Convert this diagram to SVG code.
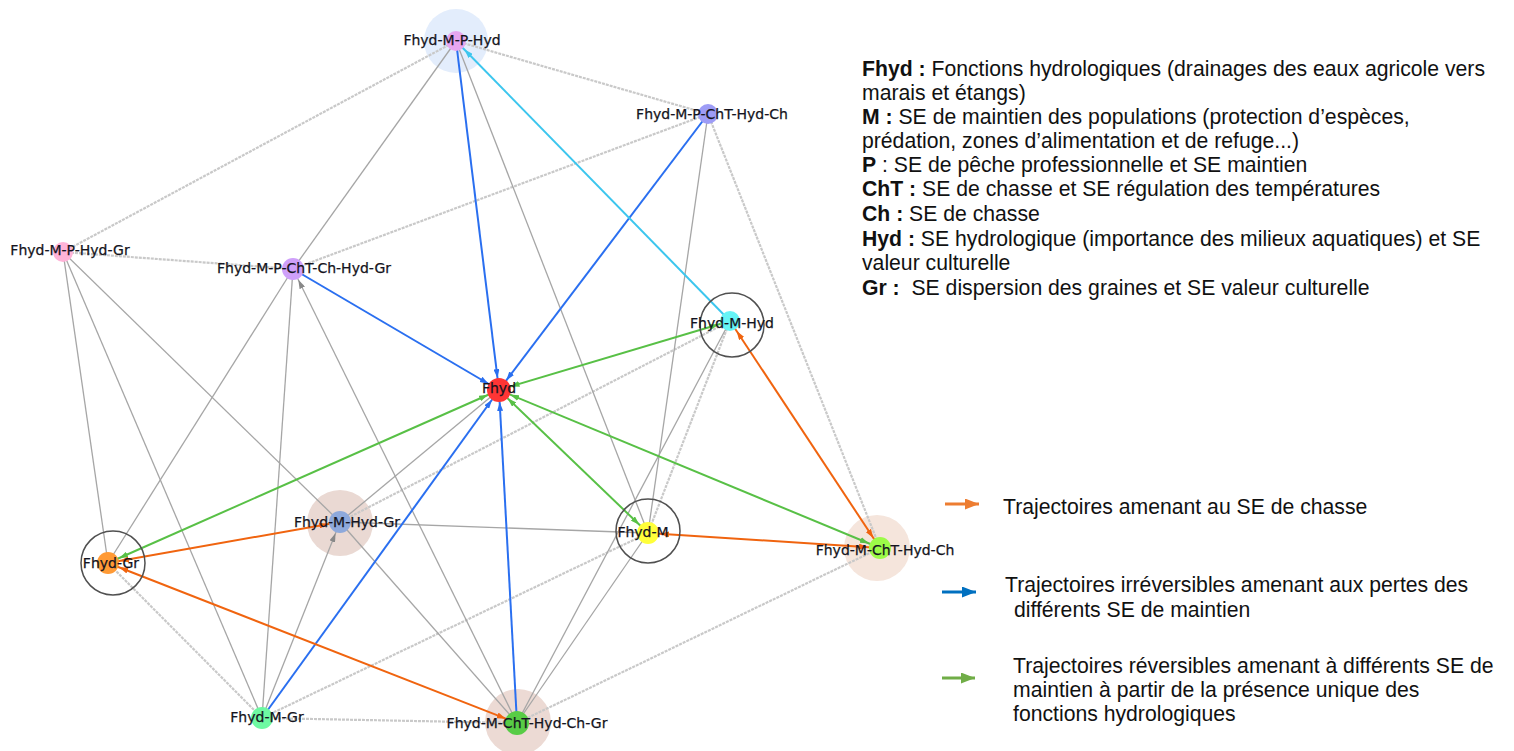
<svg xmlns="http://www.w3.org/2000/svg" width="1514" height="751" viewBox="0 0 1514 751">
<style>
.bg{fill:#ffffff}
.dk{stroke:#a6a6a6;stroke-width:1.3;fill:none}
.lt{stroke:#c9c9c9;stroke-width:2.2;fill:none;stroke-dasharray:3 1}
.bl{stroke:#2a6ff0;stroke-width:2;fill:none;marker-end:url(#ab)}
.cy{stroke:#3cc6ee;stroke-width:2;fill:none;marker-end:url(#ac)}
.gr{stroke:#58c046;stroke-width:2;fill:none;marker-end:url(#ag);marker-start:url(#ag)}
.or{stroke:#f0640f;stroke-width:2;fill:none;marker-end:url(#ao);marker-start:url(#ao)}
.nd{stroke:none}
.ring{fill:none;stroke:#505050;stroke-width:1.5}
.lbl{font-family:"DejaVu Sans",Verdana,sans-serif;font-size:14px;fill:#141420;text-anchor:middle;stroke:#141420;stroke-width:0.25}
.lg{font-family:"Liberation Sans",Arial,sans-serif;font-size:21.2px;fill:#111}
.b{font-weight:bold}
</style>
<defs>
<marker id="ab" markerUnits="userSpaceOnUse" viewBox="0 0 21 6" markerWidth="21" markerHeight="6" refX="21" refY="3" orient="auto-start-reverse"><path d="M0,0 L9,3 L0,6 z" fill="#2a6ff0"/></marker>
<marker id="ac" markerUnits="userSpaceOnUse" viewBox="0 0 21 6" markerWidth="21" markerHeight="6" refX="21" refY="3" orient="auto-start-reverse"><path d="M0,0 L9,3 L0,6 z" fill="#3cc6ee"/></marker>
<marker id="ag" markerUnits="userSpaceOnUse" viewBox="0 0 21 6" markerWidth="21" markerHeight="6" refX="21" refY="3" orient="auto-start-reverse"><path d="M0,0 L9,3 L0,6 z" fill="#58c046"/></marker>
<marker id="ao" markerUnits="userSpaceOnUse" viewBox="0 0 21 6" markerWidth="21" markerHeight="6" refX="21" refY="3" orient="auto-start-reverse"><path d="M0,0 L9,3 L0,6 z" fill="#f0640f"/></marker>
<marker id="ay" markerUnits="userSpaceOnUse" viewBox="0 0 21 6" markerWidth="21" markerHeight="6" refX="21" refY="3" orient="auto"><path d="M0,0 L9,3 L0,6 z" fill="#888"/></marker>
<marker id="lo" markerUnits="userSpaceOnUse" viewBox="0 0 14 11" markerWidth="14" markerHeight="11" refX="14" refY="5.5" orient="auto"><path d="M0,0 L14,5.5 L0,11 z" fill="#ed7d31"/></marker>
<marker id="lb" markerUnits="userSpaceOnUse" viewBox="0 0 14 11" markerWidth="14" markerHeight="11" refX="14" refY="5.5" orient="auto"><path d="M0,0 L14,5.5 L0,11 z" fill="#0070c0"/></marker>
<marker id="lgm" markerUnits="userSpaceOnUse" viewBox="0 0 14 11" markerWidth="14" markerHeight="11" refX="14" refY="5.5" orient="auto"><path d="M0,0 L14,5.5 L0,11 z" fill="#70ad47"/></marker>
</defs>
<rect class="bg" x="0" y="0" width="1514" height="751"/>

<g id="halos">
<circle cx="456" cy="41" r="32" fill="#e3edfc"/>
<circle cx="340" cy="523" r="33" fill="#ead9d3"/>
<circle cx="877" cy="548" r="33" fill="#f5e5dc"/>
<circle cx="518" cy="722" r="33" fill="#ecdad4"/>
</g>

<g id="connectors">
<line class="lt" x1="456" y1="41" x2="63" y2="252"/>
<line class="lt" x1="456" y1="41" x2="708" y2="114"/>
<line class="lt" x1="63" y1="252" x2="293" y2="269"/>
<line class="lt" x1="293" y1="269" x2="708" y2="114"/>
<line class="lt" x1="708" y1="114" x2="880" y2="548"/>
<line class="lt" x1="730" y1="321" x2="340" y2="522"/>
<line class="lt" x1="730" y1="321" x2="648" y2="533"/>
<line class="lt" x1="648" y1="533" x2="262" y2="718"/>
<line class="lt" x1="880" y1="548" x2="517" y2="723"/>
<line class="lt" x1="262" y1="718" x2="517" y2="723"/>
<line class="lt" x1="108" y1="563" x2="262" y2="718"/>
<line class="dk" x1="108" y1="563" x2="293" y2="269"/>
<line class="dk" x1="456" y1="41" x2="293" y2="269"/>
<line class="dk" x1="456" y1="41" x2="648" y2="533"/>
<line class="dk" x1="708" y1="114" x2="648" y2="533"/>
<line class="dk" x1="63" y1="252" x2="108" y2="563"/>
<line class="dk" x1="63" y1="252" x2="262" y2="718"/>
<line class="dk" x1="63" y1="252" x2="340" y2="522"/>
<line class="dk" x1="293" y1="269" x2="262" y2="718"/>
<line class="dk" x1="517" y1="723" x2="293" y2="269" style="marker-end:url(#ay)"/>
<line class="dk" x1="730" y1="321" x2="517" y2="723"/>
<line class="dk" x1="648" y1="533" x2="517" y2="723"/>
<line class="dk" x1="340" y1="522" x2="648" y2="533"/>
<line class="dk" x1="340" y1="522" x2="499" y2="390"/>
<line class="dk" x1="340" y1="522" x2="517" y2="723"/>
<line class="dk" x1="262" y1="718" x2="340" y2="522" style="marker-end:url(#ay)"/>
<line class="bl" x1="456" y1="41" x2="499" y2="390"/>
<line class="bl" x1="708" y1="114" x2="499" y2="390"/>
<line class="bl" x1="293" y1="269" x2="499" y2="390"/>
<line class="bl" x1="262" y1="718" x2="499" y2="390"/>
<line class="bl" x1="517" y1="723" x2="499" y2="390"/>
<line class="cy" x1="730" y1="321" x2="456" y2="41"/>
<line class="gr" x1="499" y1="390" x2="730" y2="321"/>
<line class="gr" x1="499" y1="390" x2="108" y2="563"/>
<line class="gr" x1="499" y1="390" x2="648" y2="533"/>
<line class="gr" x1="499" y1="390" x2="880" y2="548"/>
<line class="or" x1="730" y1="321" x2="880" y2="548"/>
<line class="or" x1="648" y1="533" x2="880" y2="548"/>
<line class="or" x1="108" y1="563" x2="340" y2="522"/>
<line class="or" x1="108" y1="563" x2="517" y2="723"/>
</g>

<g id="n1"><circle class="nd" cx="456" cy="41" r="10" fill="#e6a6f0"/><text class="lbl" x="452" y="45">Fhyd-M-P-Hyd</text></g>
<g id="n2"><circle class="nd" cx="708" cy="114" r="10" fill="#9d9cf6"/><text class="lbl" x="712" y="119">Fhyd-M-P-ChT-Hyd-Ch</text></g>
<g id="n3"><circle class="nd" cx="63" cy="252" r="10" fill="#ffb4d8"/><text class="lbl" x="70" y="255">Fhyd-M-P-Hyd-Gr</text></g>
<g id="n4"><circle class="nd" cx="293" cy="269" r="11" fill="#cfa0fa"/><text class="lbl" x="304" y="273">Fhyd-M-P-ChT-Ch-Hyd-Gr</text></g>
<g id="n5"><circle class="nd" cx="730" cy="321" r="10" fill="#66f4f6"/><circle class="ring" cx="732" cy="325" r="32"/><text class="lbl" x="732" y="328">Fhyd-M-Hyd</text></g>
<g id="n6"><circle class="nd" cx="499" cy="390" r="12" fill="#ff3535"/><text class="lbl" x="499" y="393">Fhyd</text></g>
<g id="n7"><circle class="nd" cx="340" cy="522" r="11" fill="#8ea9db"/><text class="lbl" x="347" y="527">Fhyd-M-Hyd-Gr</text></g>
<g id="n8"><circle class="nd" cx="108" cy="563" r="11" fill="#ff9a35"/><circle class="ring" cx="113" cy="563" r="32"/><text class="lbl" x="111" y="568">Fhyd-Gr</text></g>
<g id="n9"><circle class="nd" cx="648" cy="533" r="11" fill="#ffff3a"/><circle class="ring" cx="648" cy="531" r="32"/><text class="lbl" x="643" y="537">Fhyd-M</text></g>
<g id="n10"><circle class="nd" cx="880" cy="548" r="11" fill="#9cfb48"/><text class="lbl" x="885" y="555">Fhyd-M-ChT-Hyd-Ch</text></g>
<g id="n11"><circle class="nd" cx="262" cy="718" r="11" fill="#6ef9a2"/><text class="lbl" x="267" y="722">Fhyd-M-Gr</text></g>
<g id="n12"><circle class="nd" cx="517" cy="723" r="12" fill="#58cc46"/><text class="lbl" x="527" y="728">Fhyd-M-ChT-Hyd-Ch-Gr</text></g>

<g id="legend-abbrev">
<text class="lg" x="862" y="76"><tspan class="b">Fhyd :</tspan> Fonctions hydrologiques (drainages des eaux agricole vers</text>
<text class="lg" x="862" y="100">marais et étangs)</text>
<text class="lg" x="862" y="124"><tspan class="b">M :</tspan> SE de maintien des populations (protection d’espèces,</text>
<text class="lg" x="862" y="148">prédation, zones d’alimentation et de refuge...)</text>
<text class="lg" x="862" y="172"><tspan class="b">P</tspan> : SE de pêche professionnelle et SE maintien</text>
<text class="lg" x="862" y="196"><tspan class="b">ChT :</tspan> SE de chasse et SE régulation des températures</text>
<text class="lg" x="862" y="221"><tspan class="b">Ch :</tspan> SE de chasse</text>
<text class="lg" x="862" y="246"><tspan class="b">Hyd :</tspan> SE hydrologique (importance des milieux aquatiques) et SE</text>
<text class="lg" x="862" y="270">valeur culturelle</text>
<text class="lg" x="862" y="295" xml:space="preserve"><tspan class="b">Gr :</tspan>  SE dispersion des graines et SE valeur culturelle</text>
</g>

<g id="legend-arrows">
<line x1="945" y1="504" x2="979" y2="504" stroke="#ed7d31" stroke-width="3" marker-end="url(#lo)"/>
<text class="lg" x="1003" y="514">Trajectoires amenant au SE de chasse</text>
<line x1="942" y1="592" x2="976" y2="592" stroke="#0070c0" stroke-width="3" marker-end="url(#lb)"/>
<text class="lg" x="1005" y="592">Trajectoires irréversibles amenant aux pertes des</text>
<text class="lg" x="1008" y="617" xml:space="preserve"> différents SE de maintien</text>
<line x1="942" y1="678" x2="975" y2="678" stroke="#70ad47" stroke-width="3" marker-end="url(#lgm)"/>
<text class="lg" x="1013" y="673">Trajectoires réversibles amenant à différents SE de</text>
<text class="lg" x="1013" y="697">maintien à partir de la présence unique des</text>
<text class="lg" x="1013" y="721">fonctions hydrologiques</text>
</g>
</svg>
